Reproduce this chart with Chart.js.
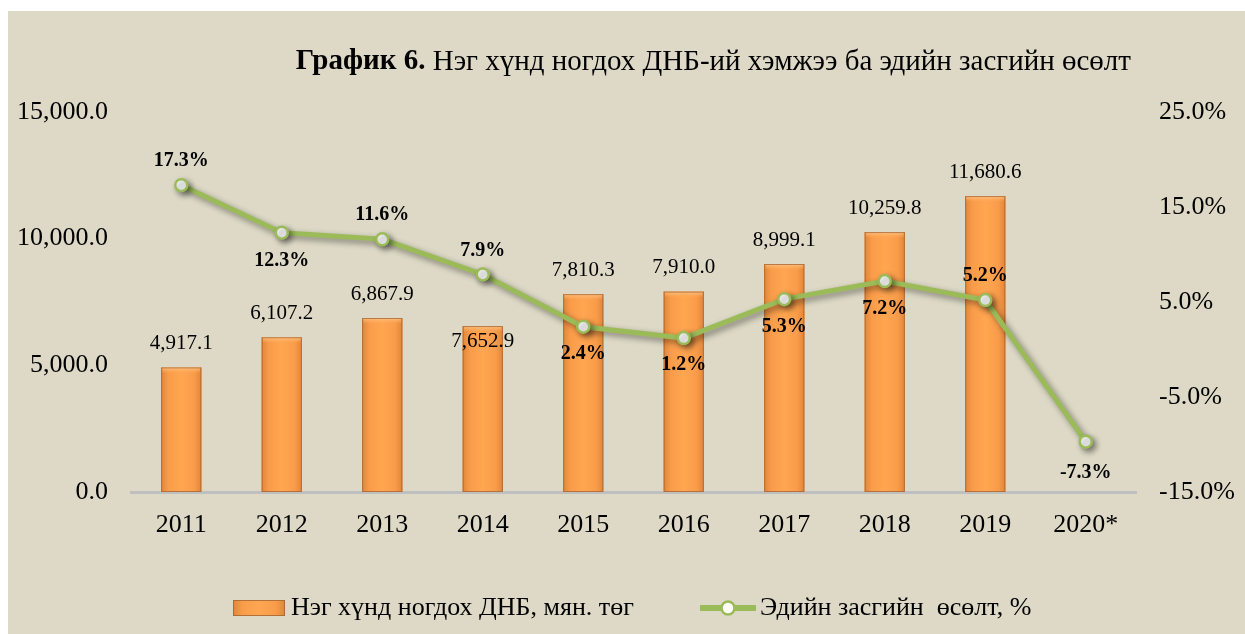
<!DOCTYPE html>
<html><head><meta charset="utf-8">
<script src="https://cdn.jsdelivr.net/npm/chart.js@4"></script>
<style>
html,body{margin:0;padding:0;background:#fff;width:1245px;height:634px;overflow:hidden;}
#wrap{position:absolute;left:8px;top:11px;width:1237px;height:623px;background:#ddd9c6;}
canvas{display:block;}
</style></head><body>
<div id="wrap"><canvas id="c" width="1237" height="623"></canvas></div>
<script>
// ---- data ----
const categories = ['2011','2012','2013','2014','2015','2016','2017','2018','2019','2020*'];
const gdpPerCapita = [4917.1, 6107.2, 6867.9, 6550.0, 7810.3, 7910.0, 8999.1, 10259.8, 11680.6, null];
const gdpLabels = ['4,917.1','6,107.2','6,867.9','7,652.9','7,810.3','7,910.0','8,999.1','10,259.8','11,680.6',''];
const growth = [17.3, 12.3, 11.6, 7.9, 2.4, 1.2, 5.3, 7.2, 5.2, -9.7];
const growthLabels = ['17.3%','12.3%','11.6%','7.9%','2.4%','1.2%','5.3%','7.2%','5.2%','-7.3%'];
const leftTicks = [0, 5000, 10000, 15000];
const rightTicks = [-15, -5, 5, 15, 25];
const titleBold = 'График 6.';
const titleText = ' Нэг хүнд ногдох ДНБ-ий хэмжээ ба эдийн засгийн өсөлт';
const seriesNames = ['Нэг хүнд ногдох ДНБ, мян. төг', 'Эдийн засгийн  өсөлт, %'];

// ---- styles ----
const FONT = "'Liberation Serif','Times New Roman',serif";
const ORANGE = '#fda24f', GREEN = '#9bbb59';
const barLabelDy = [-24,-24,-24,15,-24,-24,-24,-24,-24,-24];
const growthLabelDy = [-24,28,-24,-24,27,27,28,28,-24,31];

function fmtLeft(v){ return v.toLocaleString('en-US',{minimumFractionDigits:1,maximumFractionDigits:1}); }

function orangeGrad(ctx, x0, x1){
  const g = ctx.createLinearGradient(x0,0,x1,0);
  g.addColorStop(0,'#e0853a'); g.addColorStop(0.18,'#f99c4a');
  g.addColorStop(0.5,'#ffa651'); g.addColorStop(0.82,'#f99c4a'); g.addColorStop(1,'#e0853a');
  return g;
}

const barShade = {
  id:'barShade',
  afterDatasetDraw(chart, args){
    if (args.index !== 0) return;
    const ctx = chart.ctx;
    args.meta.data.forEach((el,i)=>{
      if (gdpPerCapita[i] == null) return;
      const p = el.getProps(['x','y','base','width'], true);
      const x0 = p.x - p.width/2, x1 = p.x + p.width/2;
      ctx.save();
      ctx.fillStyle = orangeGrad(ctx, x0, x1);
      ctx.fillRect(x0, p.y, p.width, p.base - p.y);
      const tg = ctx.createLinearGradient(0,p.y,0,p.y+6);
      tg.addColorStop(0,'rgba(255,200,140,0.9)'); tg.addColorStop(1,'rgba(255,170,90,0)');
      ctx.fillStyle = tg; ctx.fillRect(x0+1, p.y, p.width-2, 6);
      ctx.strokeStyle = 'rgba(160,100,50,0.75)'; ctx.lineWidth = 1;
      ctx.strokeRect(x0+0.5, p.y+0.5, p.width-1, p.base - p.y - 1);
      ctx.restore();
    });
  }
};

const lineShadow = {
  id:'lineShadow',
  beforeDatasetDraw(chart, args){
    if (args.index !== 1) return;
    const ctx = chart.ctx; ctx.save();
    ctx.shadowColor = 'rgba(0,0,0,0.45)'; ctx.shadowBlur = 6;
    ctx.shadowOffsetX = 3; ctx.shadowOffsetY = 3;
  },
  afterDatasetDraw(chart, args){
    if (args.index !== 1) return;
    chart.ctx.restore();
  }
};

const valueLabels = {
  id:'valueLabels',
  afterDatasetsDraw(chart){
    const ctx = chart.ctx;
    ctx.save();
    ctx.textAlign = 'center'; ctx.textBaseline = 'middle'; ctx.fillStyle = '#000';
    ctx.font = `21px ${FONT}`;
    chart.getDatasetMeta(0).data.forEach((el,i)=>{
      if (!gdpLabels[i]) return;
      ctx.fillText(gdpLabels[i], el.x, el.y + barLabelDy[i]);
    });
    ctx.font = `bold 20px ${FONT}`;
    chart.getDatasetMeta(1).data.forEach((el,i)=>{
      ctx.fillText(growthLabels[i], el.x, el.y + growthLabelDy[i]);
    });
    ctx.restore();
  }
};

const titleLegend = {
  id:'titleLegend',
  afterDraw(chart){
    const ctx = chart.ctx;
    ctx.save();
    ctx.fillStyle = '#000'; ctx.textBaseline = 'middle'; ctx.textAlign = 'left';
    // title
    const TS = 29;
    ctx.font = `${TS}px ${FONT}`;
    const wReg = ctx.measureText(titleText).width;
    ctx.font = `bold ${TS}px ${FONT}`;
    const wBold = ctx.measureText(titleBold).width;
    const right = 1123, ty = 51;
    ctx.fillText(titleBold, right - wReg - wBold, ty);
    ctx.font = `${TS}px ${FONT}`;
    ctx.fillText(titleText, right - wReg, ty);
    // legend
    const ly = 597;
    ctx.fillStyle = orangeGrad(ctx, 225, 277);
    ctx.fillRect(225, ly-8, 52, 16);
    ctx.strokeStyle = 'rgba(160,100,50,0.8)'; ctx.lineWidth = 1;
    ctx.strokeRect(225.5, ly-7.5, 51, 15);
    ctx.font = `26px ${FONT}`; ctx.fillStyle = '#000';
    ctx.fillText(seriesNames[0], 283, ly);
    ctx.strokeStyle = GREEN; ctx.lineWidth = 6;
    ctx.beginPath(); ctx.moveTo(692, ly); ctx.lineTo(748, ly); ctx.stroke();
    ctx.beginPath(); ctx.arc(720, ly, 6.5, 0, Math.PI*2);
    ctx.fillStyle = '#fff'; ctx.fill(); ctx.lineWidth = 2.5; ctx.stroke();
    ctx.fillStyle = '#000';
    ctx.fillText(seriesNames[1], 752, ly);
    ctx.restore();
  }
};

new Chart(document.getElementById('c'), {
  data: {
    labels: categories,
    datasets: [
      { type:'bar', label: seriesNames[0], data: gdpPerCapita, yAxisID:'y',
        backgroundColor: ORANGE, borderWidth: 0,
        barPercentage: 0.4, categoryPercentage: 1.0, order: 1 },
      { type:'line', label: seriesNames[1], data: growth, yAxisID:'y1',
        borderColor: GREEN, borderWidth: 5, tension: 0,
        pointRadius: 6, pointBorderWidth: 2.5, pointBackgroundColor:'#fff',
        pointBorderColor: GREEN, order: 0 }
    ]
  },
  options: {
    responsive: false, animation: false, devicePixelRatio: 1,
    layout: { padding: { top: 101, bottom: 92, left: 0, right: 0 } },
    plugins: { legend: { display:false }, tooltip: { enabled:false }, title:{display:false} },
    scales: {
      x: {
        grid: { display:false, drawTicks:false },
        border: { display:true, color:'#bfbfbf', width:3 },
        ticks: { color:'#000', font:{ family:FONT, size:26 }, padding: 18 },
        afterFit(s){ s.height = 50; }
      },
      y: {
        position:'left', min:0, max:15000,
        grid: { display:false, drawTicks:false }, border:{ display:false },
        afterBuildTicks(s){ s.ticks = leftTicks.map(v=>({value:v})); },
        ticks: { color:'#000', font:{ family:FONT, size:26 }, padding: 23,
                 callback: v => fmtLeft(v) },
        afterFit(s){ s.width = 123; }
      },
      y1: {
        position:'right', min:-15, max:25,
        grid: { display:false, drawTicks:false }, border:{ display:false },
        afterBuildTicks(s){ s.ticks = rightTicks.map(v=>({value:v})); },
        ticks: { color:'#000', font:{ family:FONT, size:26 }, padding: 23,
                 callback: v => v.toFixed(1) + '%' },
        afterFit(s){ s.width = 109; }
      }
    }
  },
  plugins: [barShade, lineShadow, valueLabels, titleLegend]
});
</script>
</body></html>
